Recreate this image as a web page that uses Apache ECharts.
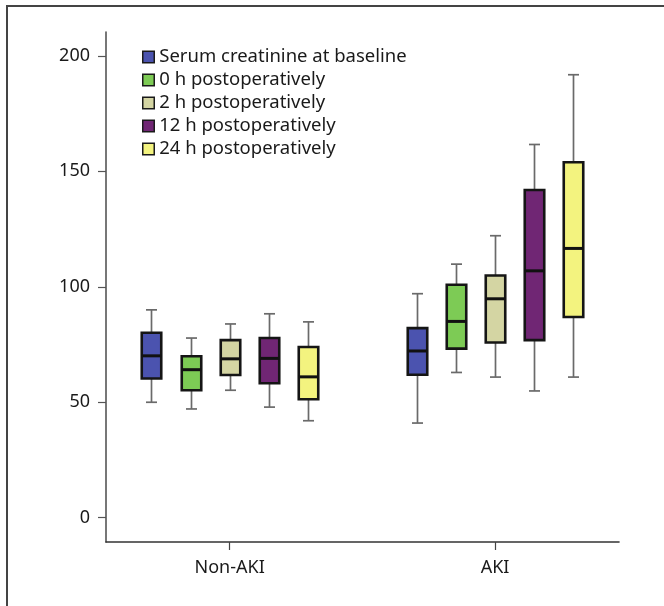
<!DOCTYPE html>
<html>
<head>
<meta charset="utf-8">
<script src="https://cdn.jsdelivr.net/npm/echarts@6/dist/echarts.min.js"></script>
<style>
html,body{margin:0;padding:0;background:#fff;}
#chart{width:664px;height:606px;}
</style>
</head>
<body>
<div id="chart"></div>
<script>
// ---- data ----
const categories = ['Non-AKI', 'AKI'];
const seriesNames = [
  'Serum creatinine at baseline',
  '0 h postoperatively',
  '2 h postoperatively',
  '12 h postoperatively',
  '24 h postoperatively'
];
// each entry: [min, Q1, median, Q3, max] per category
const baseline = [[50.0, 60.3, 70.1, 80.1, 90.0], [41.0, 61.9, 72.2, 82.1, 97.0]];
const post0h   = [[47.1, 55.2, 64.1, 69.9, 77.8], [62.9, 73.2, 85.0, 100.9, 109.8]];
const post2h   = [[55.2, 61.8, 68.8, 76.9, 83.9], [60.9, 75.9, 94.8, 104.9, 122.1]];
const post12h  = [[47.9, 58.2, 69.0, 77.8, 88.3], [54.9, 76.9, 106.9, 141.9, 161.6]];
const post24h  = [[42.0, 51.3, 61.0, 73.9, 84.8], [60.9, 86.9, 116.6, 153.9, 191.8]];
const yTicks = [0, 50, 100, 150, 200];

const seriesData = [baseline, post0h, post2h, post12h, post24h];
const colors = ['#4b53af', '#7dcb55', '#d4d5a3', '#702674', '#f3f37f'];

// ---- layout constants ----
const SERIES_STEP = 0.1473;   // offset between boxes, in category units
const BOX_W = 19.5;
const CAP_W = 11;

function makeRender(si) {
  return function (params, api) {
    const x = api.value(0) + (si - 2) * SERIES_STEP;
    const pMin = api.coord([x, api.value(1)]);
    const pQ1 = api.coord([x, api.value(2)]);
    const pMed = api.coord([x, api.value(3)]);
    const pQ3 = api.coord([x, api.value(4)]);
    const pMax = api.coord([x, api.value(5)]);
    const cx = Math.round(pMin[0]) + 0.5;
    const hw = BOX_W / 2, cw = CAP_W / 2;
    const wStyle = { stroke: '#6a6a6a', lineWidth: 1.7 };
    return {
      type: 'group',
      children: [
        { type: 'line', shape: { x1: cx, y1: pMax[1], x2: cx, y2: pQ3[1] }, style: wStyle },
        { type: 'line', shape: { x1: cx, y1: pQ1[1], x2: cx, y2: pMin[1] }, style: wStyle },
        { type: 'line', shape: { x1: cx - cw, y1: pMax[1], x2: cx + cw, y2: pMax[1] }, style: wStyle },
        { type: 'line', shape: { x1: cx - cw, y1: pMin[1], x2: cx + cw, y2: pMin[1] }, style: wStyle },
        { type: 'rect', shape: { x: cx - hw, y: pQ3[1], width: BOX_W, height: pQ1[1] - pQ3[1] },
          style: { fill: colors[si], stroke: '#151515', lineWidth: 2.6 } },
        { type: 'line', shape: { x1: cx - hw, y1: pMed[1], x2: cx + hw, y2: pMed[1] },
          style: { stroke: '#111', lineWidth: 3 } }
      ]
    };
  };
}

const series = seriesNames.map(function (name, si) {
  return {
    name: name,
    type: 'custom',
    renderItem: makeRender(si),
    itemStyle: { color: colors[si] },
    encode: { x: 0, y: [1, 2, 3, 4, 5] },
    data: categories.map(function (c, ci) { return [ci].concat(seriesData[si][ci]); })
  };
});

const chart = echarts.init(document.getElementById('chart'), null, { renderer: 'canvas' });
chart.setOption({
  animation: false,
  backgroundColor: '#fff',
  textStyle: { fontFamily: '"Noto Sans", sans-serif' },
  graphic: [
    { type: 'polyline', shape: { points: [[7, 606], [7, 6], [664, 6]] },
      style: { stroke: '#444', lineWidth: 2, fill: null } }
  ],
  legend: {
    orient: 'vertical',
    left: 137,
    top: 42.5,
    icon: 'rect',
    itemWidth: 11.5,
    itemHeight: 11.5,
    itemGap: 4,
    itemStyle: { borderColor: '#1a1a1a', borderWidth: 1.5 },
    textStyle: { fontSize: 18.5, color: '#1a1a1a' },
    data: seriesNames
  },
  grid: { left: 106, right: 45, top: 32, bottom: 64, containLabel: false },
  xAxis: {
    type: 'value',
    min: -0.466,
    max: 1.467,
    splitLine: { show: false },
    axisLine: { show: true, onZero: false, lineStyle: { color: '#333', width: 1.6 } },
    axisTick: { show: true, length: 8, customValues: [0, 1], lineStyle: { color: '#444', width: 1.2 } },
    axisLabel: {
      customValues: [0, 1],
      margin: 17,
      fontSize: 18,
      color: '#1a1a1a',
      formatter: function (v) { return categories[Math.round(v)]; }
    }
  },
  yAxis: {
    type: 'value',
    min: -10.5,
    max: 210.3,
    splitLine: { show: false },
    axisLine: { show: true, onZero: false, lineStyle: { color: '#555', width: 1.6 } },
    axisTick: { show: true, length: 8, customValues: yTicks, lineStyle: { color: '#555', width: 1.2 } },
    axisLabel: { customValues: yTicks, margin: 16, fontSize: 18, color: '#1a1a1a' }
  },
  series: series
});
</script>
</body>
</html>
